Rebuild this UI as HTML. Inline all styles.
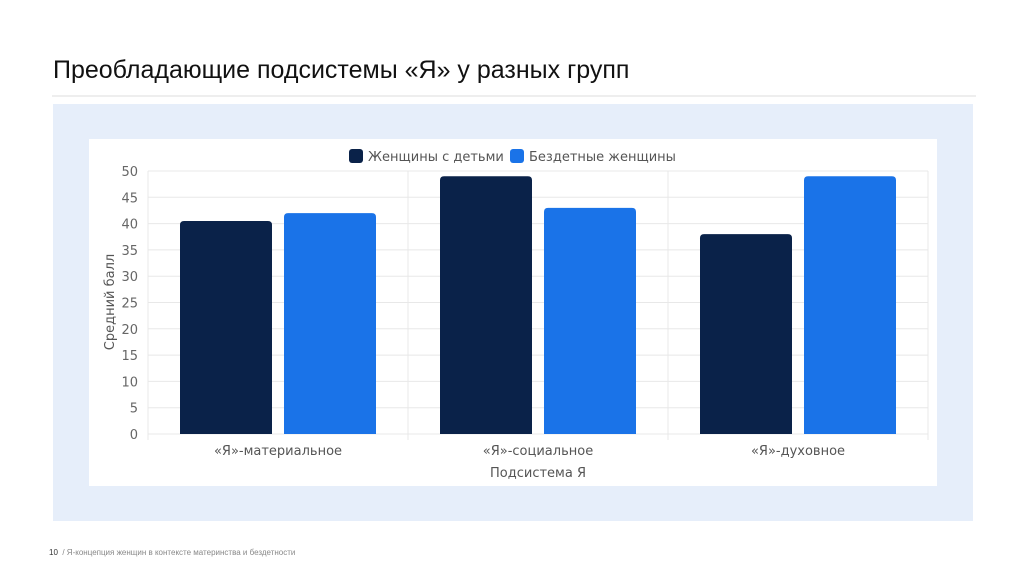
<!DOCTYPE html>
<html><head><meta charset="utf-8"><style>
body{margin:0;width:1024px;height:574px;background:#fff;font-family:"Liberation Sans","DejaVu Sans",sans-serif;position:relative;overflow:hidden}
.t{position:absolute;left:53px;top:56px;font-size:25px;color:#111}
.hr{position:absolute;left:52px;top:95px;width:924px;height:2px;background:#eee}
.panel{position:absolute;left:53px;top:104px;width:920px;height:417px;background:#e6eefa}
.foot{position:absolute;left:49px;top:548px;font-size:8px;color:#888}
svg{position:absolute;left:0;top:0;font-family:"DejaVu Sans",sans-serif}
</style></head><body>
<div class="t">Преобладающие подсистемы «Я» у разных групп</div>
<div class="hr"></div>
<div class="panel"></div>
<div class="foot"><span style="color:#333">10</span> &nbsp;/ Я-концепция женщин в контексте материнства и бездетности</div>
<svg id="c" width="1024" height="574"></svg>
<script>
const categories=["«Я»-материальное","«Я»-социальное","«Я»-духовное"];
const seriesNames=["Женщины с детьми","Бездетные женщины"];
const withKids=[40.5,49,38];
const childless=[42,43,49];
const yTicks=[0,5,10,15,20,25,30,35,40,45,50];
const colors=["#0a2249","#1a73e8"];
const ns="http://www.w3.org/2000/svg",svg=document.getElementById('c');
function mk(t,a,txt){const e=document.createElementNS(ns,t);for(const k in a)e.setAttribute(k,a[k]);if(txt!=null)e.textContent=txt;svg.appendChild(e);return e;}
const x0=148,x1=928,yTop=171,yBot=434,yMax=50;
const y=v=>yBot-(v/yMax)*(yBot-yTop);
const cw=(x1-x0)/categories.length;
let bg=mk('rect',{x:89,y:139,width:848,height:347,fill:'#fff'});


yTicks.forEach(v=>{
 let l=mk('line',{x1:x0,x2:x1,y1:y(v),y2:y(v),stroke:'#e8e8e8'});
 
 
 let t=mk('text',{x:138,y:y(v)+5,'text-anchor':'end','font-size':13,fill:'#666'},v);
 
 
});
for(let i=0;i<=categories.length;i++){
 let l=mk('line',{x1:x0+i*cw,x2:x0+i*cw,y1:yTop,y2:yBot+6,stroke:'#e8e8e8'});
 
 
}
const bw=92,gap=12;
categories.forEach((c,i)=>{
 const cx=x0+cw*(i+0.5);
 [withKids,childless].forEach((s,j)=>{
  const bx=j==0?cx-gap/2-bw:cx+gap/2;
  let p=mk('path',{d:`M${bx},${yBot}V${y(s[i])+4}q0,-4 4,-4h${bw-8}q4,0 4,4V${yBot}Z`,fill:colors[j]});
  
  
 });
 let t=mk('text',{x:cx,y:455,'text-anchor':'middle','font-size':13,fill:'#555'},c);
 
 
});
let xt=mk('text',{x:538,y:477,'text-anchor':'middle','font-size':13,fill:'#555'},'Подсистема Я');


let yt=mk('text',{x:0,y:0,'text-anchor':'middle','font-size':13,fill:'#555',transform:'translate(114,302) rotate(-90)'},'Средний балл');


const lx=[349,510];
seriesNames.forEach((n,j)=>{
 let r=mk('rect',{x:lx[j],y:149,width:14,height:14,rx:3,fill:colors[j]});
 
 
 let t=mk('text',{x:lx[j]+19,y:161,'font-size':13,fill:'#555'},n);
 
 
});
</script>
</body></html>
